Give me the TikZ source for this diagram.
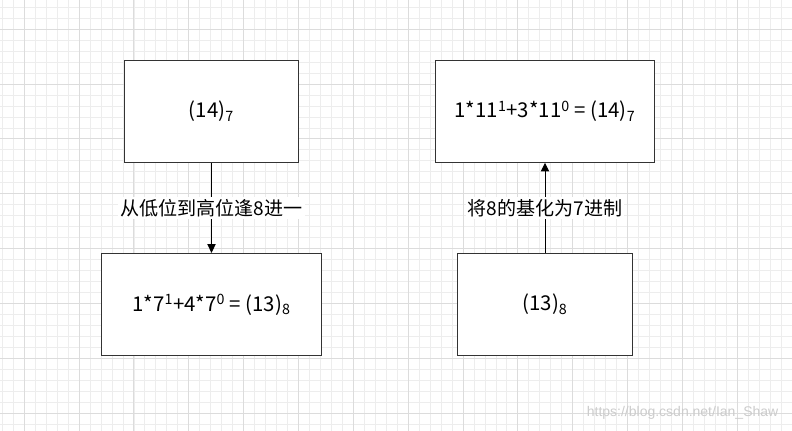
\documentclass[tikz,border=0pt]{standalone}
\usepackage{fontspec}
\usetikzlibrary{arrows.meta,positioning}
\newfontfamily\cjk{Noto Sans CJK SC}
\newfontfamily\wmfont{Liberation Sans}
\definecolor{cGridMinor}{HTML}{EDEDED}
\definecolor{cGridMajor}{HTML}{DCDCDC}
\definecolor{cLine}{HTML}{333333}

\begin{document}
\begin{tikzpicture}[
    x=0.75pt, y=-0.75pt,
    font=\cjk\fontsize{14.3}{17}\selectfont,
    node distance=67.5pt,
    box/.style={draw=cLine, line width=0.8pt, fill=white, minimum height=76.5pt, inner sep=0pt, font=\cjk\fontsize{15.3}{18}\selectfont},
    arr/.style={-{Triangle[length=6.5pt,width=6.2pt]}, line width=0.75pt, draw=black},
    lbl/.style={fill=white, inner sep=1.5pt},
    gminor/.style={draw=cGridMinor, line width=0.75pt},
    gmajor/.style={draw=cGridMajor, line width=0.75pt}
]
\useasboundingbox (0,0) rectangle (792,431);
\fill[white] (0,0) rectangle (792,431);
% background grid
\foreach \i in {0,...,72} \draw[gminor] ({2.36+10.97*\i},0) -- ++(0,431);
\foreach \j in {0,...,38} \draw[gminor] (0,{7.36+10.97*\j}) -- ++(792,0);
\foreach \i in {0,...,14} \draw[gmajor] ({24.3+54.84*\i},0) -- ++(0,431);
\foreach \j in {0,...,7} \draw[gmajor] (0,{29.3+54.84*\j}) -- ++(792,0);

\node[box, minimum width=130.8pt] (b14) at (211.5,111.3) {(14)\textsubscript{7}};
\node[box, minimum width=164.6pt] (r14) at (545,111.3) {1*11\textsuperscript{1}+3*11\textsuperscript{0} = (14)\textsubscript{7}};
\node[box, minimum width=164.6pt, below=of b14] (b13) {1*7\textsuperscript{1}+4*7\textsuperscript{0} = (13)\textsubscript{8}};
\node[box, minimum width=130.8pt, below=of r14] (r13) {(13)\textsubscript{8}};

\draw[arr] (b14) -- node[lbl] {从低位到高位逢8进一} (b13);
\draw[arr] (r13) -- node[lbl] {将8的基化为7进制} (r14);

\node[font=\wmfont\fontsize{10.5}{12}\selectfont, text=black!20, anchor=east] (wm) at (783,413) {https://blog.csdn.net/Ian\_Shaw};
\end{tikzpicture}
\end{document}
